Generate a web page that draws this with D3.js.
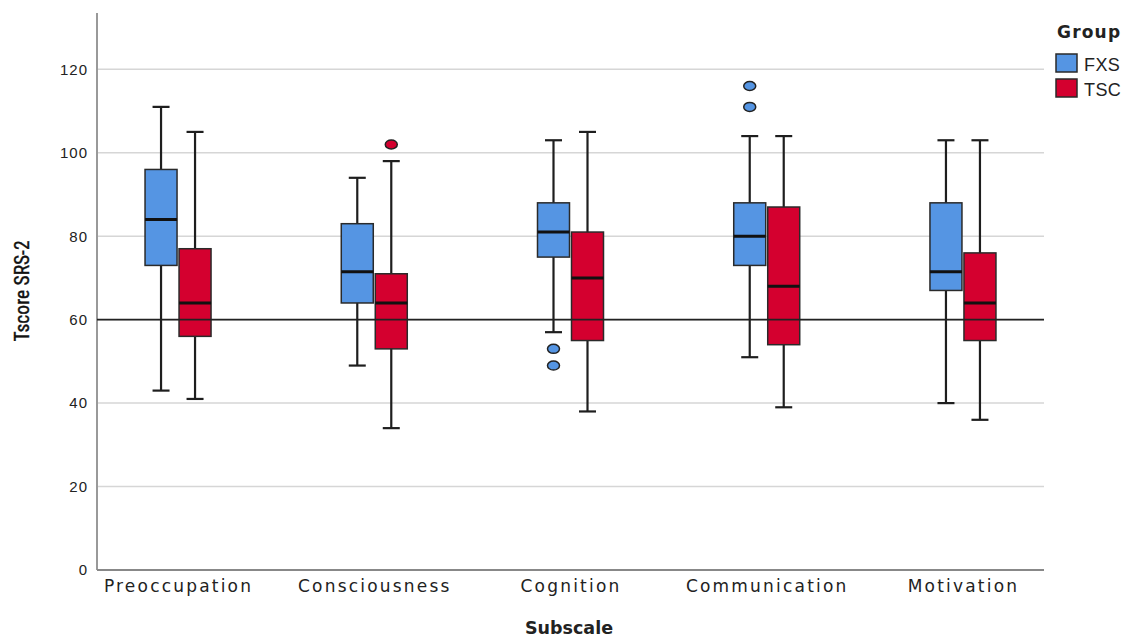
<!DOCTYPE html>
<html><head><meta charset="utf-8">
<script src="https://cdn.jsdelivr.net/npm/d3@7"></script>
<style>body{margin:0;background:#fff}</style>
</head><body>
<script>
const categories = ["Preoccupation","Consciousness","Cognition","Communication","Motivation"];
const groups = ["FXS","TSC"];
const groupColors = ["#5595e3","#d4002f"];
// [whiskerLow, q1, median, q3, whiskerHigh]
const fxsStats = [[43,73,84,96,111],[49,64,71.5,83,94],[57,75,81,88,103],[51,73,80,88,104],[40,67,71.5,88,103]];
const tscStats = [[41,56,64,77,105],[34,53,64,71,98],[38,55,70,81,105],[39,54,68,87,104],[36,55,64,76,103]];
const fxsOutliers = [[],[],[53,49],[116,111],[]];
const tscOutliers = [[],[102],[],[],[]];
const yTicks = [0,20,40,60,80,100,120];
const refValue = 60;

(function(){
const W=1127,H=639;
const svg=d3.select("body").append("svg").attr("width",W).attr("height",H);
const pLeft=97,pRight=1044,pBottom=570,pTop=13;
const y=d3.scaleLinear().domain([0,133.5]).range([pBottom,pTop]);
const x=d3.scalePoint().domain(categories).range([pLeft,pRight]).padding(0.413);
const off=d3.scaleOrdinal().domain(groups).range([-17,17]);
const color=d3.scaleOrdinal().domain(groups).range(groupColors);

// gridlines
svg.append("g").selectAll("line").data(yTicks.filter(d=>d>0)).join("line")
 .attr("x1",pLeft).attr("x2",pRight).attr("y1",d=>y(d)).attr("y2",d=>y(d))
 .attr("stroke","#d6d6d6").attr("stroke-width",1.5);

// y axis
const ya=svg.append("g").attr("transform",`translate(${pLeft},0)`)
 .call(d3.axisLeft(y).tickValues(yTicks).tickSize(0).tickPadding(9));
ya.select(".domain").attr("stroke","#999").attr("stroke-width",2).attr("d",`M0,${pTop}V${pBottom}`);
ya.selectAll("text").attr("font-family","Liberation Sans, Arial, sans-serif").attr("font-size",15)
 .attr("letter-spacing","1px").attr("fill","#222");

// x axis
const xa=svg.append("g").attr("transform",`translate(0,${pBottom})`)
 .call(d3.axisBottom(x).tickSize(0).tickPadding(10));
xa.select(".domain").attr("stroke","#888").attr("stroke-width",2).attr("d",`M${pLeft},0H${pRight}`);
xa.selectAll("text").attr("font-family","DejaVu Sans, Verdana, sans-serif").attr("font-size",17)
 .attr("letter-spacing","2.2px").attr("fill","#222");

const bw=32, cap=17;
const data=[];
categories.forEach((c,i)=>{
  data.push({c,g:"FXS",s:fxsStats[i],o:fxsOutliers[i]});
  data.push({c,g:"TSC",s:tscStats[i],o:tscOutliers[i]});
});
const boxes=svg.append("g").selectAll("g").data(data).join("g")
 .attr("transform",d=>`translate(${x(d.c)+off(d.g)},0)`);
boxes.append("line").attr("y1",d=>y(d.s[0])).attr("y2",d=>y(d.s[4]))
 .attr("stroke","#1e1e1e").attr("stroke-width",2.2);
boxes.append("line").attr("x1",-cap/2).attr("x2",cap/2).attr("y1",d=>y(d.s[4])).attr("y2",d=>y(d.s[4]))
 .attr("stroke","#1e1e1e").attr("stroke-width",2.2);
boxes.append("line").attr("x1",-cap/2).attr("x2",cap/2).attr("y1",d=>y(d.s[0])).attr("y2",d=>y(d.s[0]))
 .attr("stroke","#1e1e1e").attr("stroke-width",2.2);
boxes.append("rect").attr("x",-bw/2).attr("width",bw)
 .attr("y",d=>y(d.s[3])).attr("height",d=>y(d.s[1])-y(d.s[3]))
 .attr("fill",d=>color(d.g)).attr("stroke","#2a2a2a").attr("stroke-width",1.5);
boxes.append("line").attr("x1",-bw/2).attr("x2",bw/2).attr("y1",d=>y(d.s[2])).attr("y2",d=>y(d.s[2]))
 .attr("stroke","#111").attr("stroke-width",3);
boxes.selectAll("ellipse").data(d=>d.o.map(v=>({v,g:d.g}))).join("ellipse")
 .attr("cx",0).attr("cy",d=>y(d.v)).attr("rx",6).attr("ry",4.5)
 .attr("fill",d=>color(d.g)).attr("stroke","#222").attr("stroke-width",1.5);

// reference line (drawn over the boxes, as in the reference)
svg.append("line").attr("x1",pLeft).attr("x2",pRight).attr("y1",y(refValue)).attr("y2",y(refValue))
 .attr("stroke","#222").attr("stroke-width",1.6);

// axis titles
svg.append("text").attr("x",569).attr("y",634).attr("text-anchor","middle")
 .attr("font-family","DejaVu Sans, Verdana, sans-serif").attr("font-weight","bold").attr("font-size",17.5)
 .attr("fill","#222").text("Subscale");
svg.append("text").attr("transform","translate(29,291) rotate(-90)").attr("text-anchor","middle")
 .attr("font-family","Liberation Sans Narrow, Roboto Condensed, Liberation Sans, sans-serif")
 .attr("font-size",19.5).attr("fill","#111").attr("stroke","#111").attr("stroke-width",0.4)
 .text("Tscore SRS-2");

// legend
svg.append("text").attr("x",1057).attr("y",38).attr("font-family","DejaVu Sans, Verdana, sans-serif")
 .attr("font-weight","bold").attr("font-size",17).attr("letter-spacing","1.2px").attr("fill","#222").text("Group");
const lg=svg.append("g").selectAll("g").data(groups).join("g")
 .attr("transform",(d,i)=>`translate(1056,${54+i*25})`);
lg.append("rect").attr("width",21).attr("height",18).attr("fill",d=>color(d)).attr("stroke","#2a2a2a").attr("stroke-width",1.5);
lg.append("text").attr("x",28).attr("y",16.5).attr("font-family","Liberation Sans, Arial, sans-serif")
 .attr("font-size",18).attr("letter-spacing","0.4px").attr("fill","#222").text(d=>d);
})();
</script>
</body></html>
